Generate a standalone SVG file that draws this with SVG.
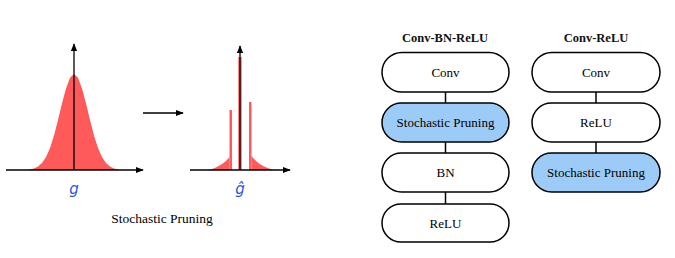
<svg xmlns="http://www.w3.org/2000/svg" width="675" height="258" viewBox="0 0 675 258">
<style>
.ax{stroke:#000;stroke-width:1.3;fill:none}
.red{fill:#FF5A5A;stroke:none}
.node rect{stroke:#000;stroke-width:1.5;fill:#fff}
.node.sp rect{fill:#9DCBF7}
.lbl{font-family:"Liberation Serif",serif;font-size:13px;text-anchor:middle;fill:#000}
.ttl{font-family:"Liberation Serif",serif;font-size:12.5px;font-weight:bold;text-anchor:middle;fill:#111}
.var{font-family:"DejaVu Sans",sans-serif;font-style:italic;font-size:15px;fill:#2B55E0;text-anchor:middle}
.conn line{stroke:#000;stroke-width:1.5}
</style>
<defs>
<marker id="ah" viewBox="0 0 10 10" refX="9" refY="5" markerWidth="8" markerHeight="8" markerUnits="userSpaceOnUse" orient="auto">
<path d="M0,1 L10,5 L0,9 z" fill="#000"/>
</marker>
</defs>
<rect width="675" height="258" fill="#fff"/>
<g id="plot-left">
<path class="red" d="M28,170 L30,169.3 L34,168.4 L38,166.5 L42,163 L46,157 L50,147.9 L54,135.4 L58,120.1 L62,103.5 L66,88.5 L70,77.8 L74,74 L78,77.8 L82,88.5 L86,103.5 L90,120.1 L94,135.4 L98,147.9 L102,157 L106,163 L110,166.5 L114,168.4 L118,169.3 L120,170 Z"/>
<line class="ax" x1="6" y1="170" x2="143" y2="170" marker-end="url(#ah)"/>
<line class="ax" x1="74" y1="170" x2="74" y2="44" marker-end="url(#ah)"/>
<text class="var" x="74" y="194">g</text>
</g>
<g id="arrow-mid">
<line class="ax" x1="143" y1="113" x2="183" y2="113" marker-end="url(#ah)"/>
</g>
<g id="plot-right">
<path class="red" d="M207,170 L212,169 L217,167 L222,164 L226,161 L229.5,157 L229.5,170 Z"/>
<path class="red" d="M251.5,156 L255,160 L259,163.5 L264,166.5 L269,168.5 L274,170 L251.5,170 Z"/>
<rect class="red" x="229.5" y="110" width="2.5" height="60"/>
<rect class="red" x="249" y="102" width="2.5" height="68"/>
<rect class="red" x="238.3" y="57" width="3.4" height="113"/>
<line class="ax" x1="190" y1="170" x2="290" y2="170" marker-end="url(#ah)"/>
<line class="ax" x1="240" y1="170" x2="240" y2="46" marker-end="url(#ah)"/>
<text class="var" x="240" y="194">ĝ</text>
</g>
<text class="lbl" x="162" y="223" style="font-size:13.5px">Stochastic Pruning</text>
<text class="ttl" x="445" y="42">Conv-BN-ReLU</text>
<text class="ttl" x="596" y="42">Conv-ReLU</text>
<g id="connectors" class="conn">
<line x1="445.5" y1="92" x2="445.5" y2="103"/>
<line x1="445.5" y1="142" x2="445.5" y2="153"/>
<line x1="445.5" y1="192" x2="445.5" y2="204"/>
<line x1="596" y1="92" x2="596" y2="103"/>
<line x1="596" y1="142" x2="596" y2="153"/>
</g>
<g id="a-conv" class="node"><rect x="382" y="52.5" width="127" height="39.5" rx="19.75"/><text class="lbl" x="445.5" y="77">Conv</text></g>
<g id="a-sp" class="node sp"><rect x="382" y="103" width="127" height="39" rx="19.5"/><text class="lbl" x="445.5" y="127">Stochastic Pruning</text></g>
<g id="a-bn" class="node"><rect x="382" y="153" width="127" height="39" rx="19.5"/><text class="lbl" x="445.5" y="177">BN</text></g>
<g id="a-relu" class="node"><rect x="382" y="204" width="127" height="38" rx="19"/><text class="lbl" x="445.5" y="227.5">ReLU</text></g>
<g id="b-conv" class="node"><rect x="532" y="52.5" width="128" height="39.5" rx="19.75"/><text class="lbl" x="596" y="77">Conv</text></g>
<g id="b-relu" class="node"><rect x="532" y="103" width="128" height="39" rx="19.5"/><text class="lbl" x="596" y="127">ReLU</text></g>
<g id="b-sp" class="node sp"><rect x="532" y="153" width="128" height="39" rx="19.5"/><text class="lbl" x="596" y="177">Stochastic Pruning</text></g>
</svg>
